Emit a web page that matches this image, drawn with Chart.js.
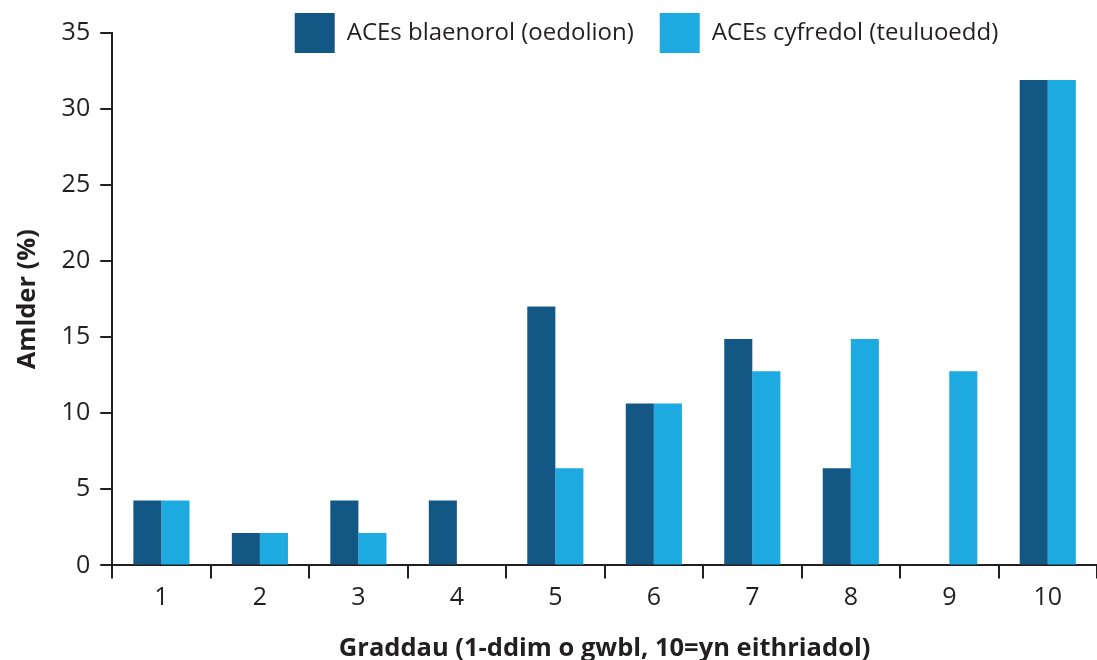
<!DOCTYPE html>
<html>
<head>
<meta charset="utf-8">
<script src="https://cdn.jsdelivr.net/npm/chart.js@4/dist/chart.umd.min.js"></script>
<style>
  body { margin: 0; background: #fff; }
  #wrap { position: relative; width: 1097px; height: 660px; }
</style>
</head>
<body>
<div id="wrap"><canvas id="aceChart"></canvas></div>
<script>
const categories = ["1", "2", "3", "4", "5", "6", "7", "8", "9", "10"];
const adultValues = [4.26, 2.13, 4.26, 4.26, 17.02, 10.64, 14.89, 6.38, 0, 31.91];
const familyValues = [4.26, 2.13, 2.13, 0, 6.38, 10.64, 12.77, 14.89, 12.77, 31.91];
const seriesNames = ["ACEs blaenorol (oedolion)", "ACEs cyfredol (teuluoedd)"];
const yTitle = "Amlder (%)";
const xTitle = "Graddau (1-ddim o gwbl, 10=yn eithriadol)";

const ink = "#231f20";
const fontFamily = "'Open Sans', 'Noto Sans', sans-serif";

// legend takes no room in the layout, it is drawn over the top of the plot
const legendOverlay = {
  id: "legendOverlay",
  beforeLayout(chart) {
    const l = chart.legend;
    if (l && !l._patched) {
      const fit = l.fit;
      l.fit = function () {
        fit.call(this);
        this.height = 0;
      };
      l._patched = true;
    }
  },
  afterLayout(chart) {
    const l = chart.legend;
    l.left += 92;
    l.right += 92;
    l.top = -13;
    l.bottom = 70;
    l.height = l.bottom - l.top;
  },
};

const data = {
  labels: categories,
  datasets: [
    {
      label: seriesNames[0],
      data: adultValues,
      backgroundColor: "#135785",
      categoryPercentage: 0.57,
      barPercentage: 1.0,
    },
    {
      label: seriesNames[1],
      data: familyValues,
      backgroundColor: "#1daae0",
      categoryPercentage: 0.57,
      barPercentage: 1.0,
    },
  ],
};

const config = {
  type: "bar",
  data: data,
  plugins: [legendOverlay],
  options: {
    responsive: true,
    maintainAspectRatio: false,
    animation: false,
    layout: { padding: { top: 33, left: 12, right: 0, bottom: 0 } },
    plugins: {
      tooltip: { enabled: false },
      legend: {
        position: "top",
        align: "center",
        labels: {
          boxWidth: 40,
          boxHeight: 40,
          padding: 26,
          color: ink,
          font: { family: fontFamily, size: 24 },
        },
      },
    },
    scales: {
      x: {
        grid: {
          offset: true,
          drawOnChartArea: false,
          tickLength: 13,
          color: ink,
          lineWidth: 2,
        },
        border: { color: ink, width: 2 },
        ticks: { color: ink, padding: 4, font: { family: fontFamily, size: 25 } },
        title: {
          display: true,
          text: xTitle,
          color: ink,
          padding: { top: 17, bottom: -4 },
          font: { family: fontFamily, size: 25.5, weight: "bold" },
        },
      },
      y: {
        min: 0,
        max: 35,
        grid: {
          drawOnChartArea: false,
          tickLength: 12,
          color: ink,
          lineWidth: 2,
        },
        border: { color: ink, width: 2 },
        ticks: {
          stepSize: 5,
          color: ink,
          padding: 10,
          font: { family: fontFamily, size: 25 },
        },
        title: {
          display: true,
          text: yTitle,
          color: ink,
          padding: { top: 0, bottom: 9 },
          font: { family: fontFamily, size: 25.5, weight: "bold" },
        },
      },
    },
  },
};

new Chart(document.getElementById("aceChart"), config);
</script>
</body>
</html>
